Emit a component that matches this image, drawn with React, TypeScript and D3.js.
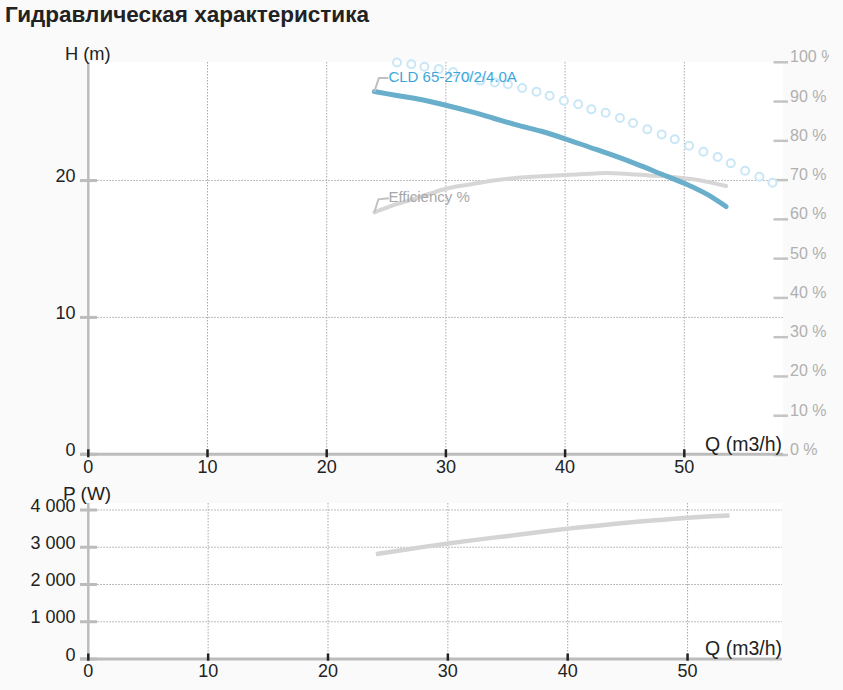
import React from "react";
import * as d3 from "d3";

// ---------- data ----------
const title = "Гидравлическая характеристика";
const curveName = "CLD 65-270/2/4.0A";
const effName = "Efficiency %";

const qTicks = [0, 10, 20, 30, 40, 50];
const hTicks = [0, 10, 20];
const pctTicks = [0, 10, 20, 30, 40, 50, 60, 70, 80, 90, 100];
const pTicks = [0, 1000, 2000, 3000, 4000];
const pTickLabels = ["0", "1 000", "2 000", "3 000", "4 000"];

const headQ = [24, 26, 28, 30, 32, 34, 36, 38, 40, 42, 44, 46, 48, 50, 52, 53.5];
const headH = [26.5, 26.2, 25.9, 25.5, 25.05, 24.55, 24.05, 23.6, 23.05, 22.45, 21.85, 21.2, 20.5, 19.8, 18.95, 18.1];

const effQ = [24, 25.5, 27, 28.5, 30, 32, 34, 36, 38, 40, 42, 43.5, 45, 47, 49, 51, 53.5];
const effV = [61.8, 63.5, 64.9, 66.4, 67.8, 68.9, 69.9, 70.6, 71.0, 71.3, 71.6, 71.8, 71.6, 71.2, 70.8, 70.1, 68.5];

const maxQ = [25.9, 27.1, 28.2, 29.4, 30.6, 31.7, 32.9, 34.1, 35.2, 36.4, 37.6, 38.7, 39.9, 41.1, 42.2, 43.4, 44.6, 45.7, 46.9, 48.1, 49.2, 50.4, 51.6, 52.8, 53.9, 55.1, 56.3, 57.4];
const maxH = [28.63, 28.49, 28.31, 28.14, 27.93, 27.58, 27.3, 27.17, 27.03, 26.76, 26.49, 26.19, 25.83, 25.57, 25.2, 24.95, 24.57, 24.2, 23.74, 23.37, 23.01, 22.54, 22.1, 21.72, 21.26, 20.72, 20.28, 19.84];

const powQ = [24, 26, 28, 30, 32, 34, 36, 38, 40, 42, 44, 46, 48, 50, 52, 53.5];
const powP = [2815, 2915, 3010, 3100, 3185, 3265, 3340, 3425, 3500, 3565, 3630, 3690, 3740, 3790, 3830, 3855];

// ---------- layout ----------
const W = 843;
const H = 690;
const FONT = "'Liberation Sans', Arial, Helvetica, sans-serif";
const AX = "#bcbcbc";
const GRID = "#a8a8a8";
const TXT = "#222";

const top = { left: 88.3, right: 783, y0: 62, y1: 454.3 };
const bot = { left: 88.3, right: 782, y0: 503, y1: 659 };

export default function App() {
  const xT = d3.scaleLinear().domain([0, 58.28]).range([top.left, top.right]);
  const yH = d3.scaleLinear().domain([0, 28.66]).range([top.y1, top.y0]);
  const yPct = d3.scaleLinear().domain([0, 100]).range([455, 62.3]);
  const xB = d3.scaleLinear().domain([0, 57.88]).range([bot.left, bot.right]);
  const yP = d3.scaleLinear().domain([0, 4000]).range([bot.y1, 510]);

  const headLine = d3
    .line<number>()
    .x((_, i) => xT(headQ[i]))
    .y((d) => yH(d))
    .curve(d3.curveMonotoneX);
  const effLine = d3
    .line<number>()
    .x((_, i) => xT(effQ[i]))
    .y((d) => yPct(d))
    .curve(d3.curveMonotoneX);
  const powLine = d3
    .line<number>()
    .x((_, i) => xB(powQ[i]))
    .y((d) => yP(d))
    .curve(d3.curveMonotoneX);

  const hx0 = xT(headQ[0]);
  const hy0 = yH(headH[0]);
  const ex0 = xT(effQ[0]);
  const ey0 = yPct(effV[0]);

  return (
    <svg
      width={W}
      height={H}
      style={{ position: "absolute", left: 0, top: 0, fontFamily: FONT }}
    >
      <defs>
        <clipPath id="rclip">
          <rect x={0} y={0} width={829} height={H} />
        </clipPath>
      </defs>
      <rect x={0} y={0} width={W} height={H} fill="#fafafa" />
      <text x={5} y={22} fontSize={22.5} fontWeight="bold" fill={TXT}>
        {title}
      </text>

      {/* ===== top chart ===== */}
      <rect x={top.left} y={top.y0} width={top.right - top.left} height={top.y1 - top.y0} fill="#ffffff" />
      {qTicks.filter((t) => t > 0).map((t) => (
        <line key={"vg" + t} x1={xT(t)} x2={xT(t)} y1={top.y0} y2={top.y1} stroke={GRID} strokeWidth={1} strokeDasharray="1.5,1.5" />
      ))}
      {hTicks.filter((t) => t > 0).map((t) => (
        <line key={"hg" + t} x1={top.left} x2={top.right} y1={yH(t)} y2={yH(t)} stroke={GRID} strokeWidth={1} strokeDasharray="1.5,1.5" />
      ))}
      {/* right pct axis */}
      <g clipPath="url(#rclip)">
        {pctTicks.map((t) => (
          <g key={"pc" + t}>
            <line x1={773.5} x2={788} y1={yPct(t)} y2={yPct(t)} stroke="#c4c4c4" strokeWidth={2.5} />
            <text x={790} y={yPct(t)} fontSize={16} fill="#b0b0b0">
              {t + " %"}
            </text>
          </g>
        ))}
      </g>
      {/* axes */}
      <line x1={top.left} x2={top.left} y1={top.y0} y2={top.y1} stroke={AX} strokeWidth={2.5} />
      <line x1={80} x2={top.right} y1={top.y1} y2={top.y1} stroke={AX} strokeWidth={3} />
      {hTicks.map((t) => (
        <g key={"ht" + t}>
          <line x1={80} x2={97} y1={yH(t)} y2={yH(t)} stroke={AX} strokeWidth={3} />
          <text x={75.5} y={yH(t) + 1.7} fontSize={18} fill={TXT} textAnchor="end">
            {t}
          </text>
        </g>
      ))}
      {qTicks.map((t) => (
        <g key={"qt" + t}>
          <line x1={xT(t)} x2={xT(t)} y1={top.y1 - 5} y2={top.y1 + 3} stroke={TXT} strokeWidth={2.5} />
          <text x={xT(t)} y={top.y1 + 19} fontSize={18} fill={TXT} textAnchor="middle">
            {t}
          </text>
        </g>
      ))}
      <text x={65} y={60} fontSize={18.3} fill={TXT}>H (m)</text>
      <text x={782} y={451} fontSize={19.5} fill={TXT} textAnchor="end">Q (m3/h)</text>

      {/* curves */}
      {maxH.map((h, i) => (
        <circle key={"mc" + i} cx={xT(maxQ[i])} cy={yH(h)} r={4} fill="#ffffff" stroke="#c9e7f6" strokeWidth={2} />
      ))}
      <path d={effLine(effV) || ""} fill="none" stroke="#d6d6d6" strokeWidth={4} strokeLinecap="round" />
      <path d={headLine(headH) || ""} fill="none" stroke="#69afcc" strokeWidth={5} strokeLinecap="round" />

      {/* labels */}
      <path d={`M${hx0},${hy0} L${hx0 + 4.5},${hy0 - 13.5} L${hx0 + 14},${hy0 - 13.5}`} fill="none" stroke="#c0c0c0" strokeWidth={2} />
      <text x={hx0 + 14} y={hy0 - 10} fontSize={15} fill="#3ea7da">{curveName}</text>
      <path d={`M${ex0},${ey0} L${ex0 + 4},${ey0 - 13} L${ex0 + 14.5},${ey0 - 14}`} fill="none" stroke="#c0c0c0" strokeWidth={2} />
      <text x={ex0 + 14} y={ey0 - 10} fontSize={15} fill="#a8a8a8">{effName}</text>

      {/* ===== bottom chart ===== */}
      <rect x={bot.left} y={bot.y0} width={bot.right - bot.left} height={bot.y1 - bot.y0} fill="#ffffff" />
      {qTicks.filter((t) => t > 0).map((t) => (
        <line key={"bvg" + t} x1={xB(t)} x2={xB(t)} y1={bot.y0} y2={bot.y1} stroke={GRID} strokeWidth={1} strokeDasharray="1.5,1.5" />
      ))}
      {pTicks.filter((t) => t > 0).map((t) => (
        <line key={"bhg" + t} x1={bot.left} x2={bot.right} y1={yP(t)} y2={yP(t)} stroke={GRID} strokeWidth={1} strokeDasharray="1.5,1.5" />
      ))}
      <line x1={bot.left} x2={bot.left} y1={bot.y0} y2={bot.y1} stroke={AX} strokeWidth={2.5} />
      <line x1={80} x2={bot.right} y1={bot.y1} y2={bot.y1} stroke={AX} strokeWidth={3} />
      {pTicks.map((t, i) => (
        <g key={"pt" + t}>
          <line x1={80} x2={97} y1={yP(t)} y2={yP(t)} stroke={AX} strokeWidth={3} />
          <text x={75.5} y={yP(t) + 1.7} fontSize={18} fill={TXT} textAnchor="end">
            {pTickLabels[i]}
          </text>
        </g>
      ))}
      {qTicks.map((t) => (
        <g key={"bqt" + t}>
          <line x1={xB(t)} x2={xB(t)} y1={bot.y1 - 5.5} y2={bot.y1 + 1.7} stroke={TXT} strokeWidth={2.5} />
          <text x={xB(t)} y={bot.y1 + 17.5} fontSize={18} fill={TXT} textAnchor="middle">
            {t}
          </text>
        </g>
      ))}
      <text x={63} y={500} fontSize={19} fill={TXT}>P (W)</text>
      <text x={782} y={655} fontSize={19.5} fill={TXT} textAnchor="end">Q (m3/h)</text>
      <path d={powLine(powP) || ""} fill="none" stroke="#d4d4d4" strokeWidth={4.5} />
    </svg>
  );
}
